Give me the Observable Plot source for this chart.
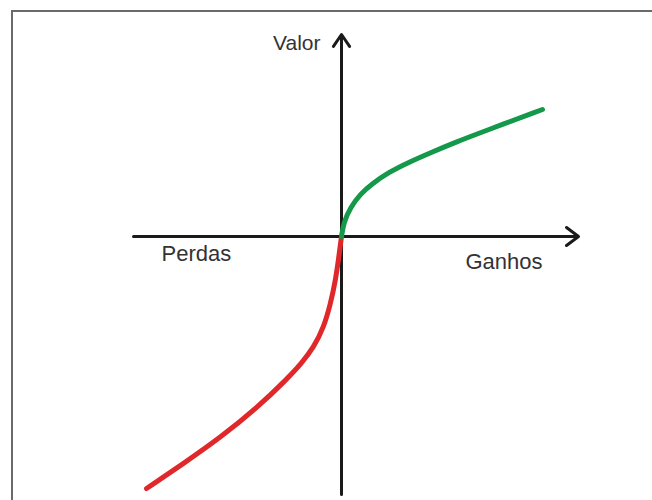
<!DOCTYPE html>
<html>
<head>
<meta charset="utf-8">
<script src="https://cdn.jsdelivr.net/npm/d3@7"></script>
<script src="https://cdn.jsdelivr.net/npm/@observablehq/plot@0.6"></script>
<style>
  html, body { margin: 0; padding: 0; background: #fff; overflow: hidden; }
  #wrap { position: relative; width: 652px; height: 500px; overflow: hidden; }
  #frame { position: absolute; left: 11px; top: 10px; width: 760px; height: 620px;
           border: 2px solid #6a6a6a; box-sizing: border-box; }
  #chart { position: absolute; left: 0; top: 0; }
</style>
</head>
<body>
<div id="wrap"><div id="frame"></div><div id="chart"></div></div>
<script>
// Gains branch (concave): gain amount vs. subjective value
const gainX = [0, 0.115, 0.45, 0.95, 1.535, 2.365, 3.365, 4.535, 5.6, 7.3, 10.05];
const gainY = [0, 0.715, 1.465, 2.135, 2.635, 3.215, 3.715, 4.225, 4.675, 5.325, 6.35];
// Losses branch (convex, steeper), from the largest loss up to the origin
const lossX = [-9.75, -7.9, -6.05, -4.2, -2.715, -2.025, -1.385, -0.885, -0.55, -0.3, -0.135, 0];
const lossY = [-12.6, -11.35, -10.05, -8.55, -7.115, -6.375, -5.535, -4.535, -3.365, -2.2, -1.035, 0];
// Axis extents
const axisXExtent = [-10.4, 11.85];
const axisYExtent = [-12.9, 10.1];
// Labels
const labelValue = "Valor";
const labelLoss = "Perdas";
const labelGain = "Ganhos";

const gains = gainX.map((x, i) => ({x, y: gainY[i]}));
const losses = lossX.map((x, i) => ({x, y: lossY[i]}));

const chart = Plot.plot({
  width: 652,
  height: 500,
  marginTop: 0, marginRight: 0, marginBottom: 0, marginLeft: 0,
  x: {domain: [-17.05, 15.55], axis: null},
  y: {domain: [-13.2, 11.8], axis: null},
  style: {background: "transparent", fontFamily: "'Liberation Sans', Arial, sans-serif"},
  marks: [
    Plot.arrow([{}], {
      x1: axisXExtent[0], y1: 0, x2: axisXExtent[1], y2: 0,
      stroke: "#1a1a1a", strokeWidth: 3, headLength: 7.5, headAngle: 74
    }),
    Plot.arrow([{}], {
      x1: 0, y1: axisYExtent[0], x2: 0, y2: axisYExtent[1],
      stroke: "#1a1a1a", strokeWidth: 3, headLength: 7.2, headAngle: 68
    }),
    Plot.line(losses, {x: "x", y: "y", stroke: "#e0282a", strokeWidth: 5, curve: "basis", strokeLinecap: "round"}),
    Plot.line(gains, {x: "x", y: "y", stroke: "#14984a", strokeWidth: 5, curve: "basis", strokeLinecap: "round"}),
    Plot.text([labelValue], {x: -1.05, y: 9.675, text: d => d, textAnchor: "end", fontSize: 21, fill: "#333"}),
    Plot.text([labelLoss], {x: -9.0, y: -0.85, text: d => d, textAnchor: "start", fontSize: 22, fill: "#333"}),
    Plot.text([labelGain], {x: 6.2, y: -1.25, text: d => d, textAnchor: "start", fontSize: 22, fill: "#333"})
  ]
});
document.getElementById("chart").appendChild(chart);
</script>
</body>
</html>
